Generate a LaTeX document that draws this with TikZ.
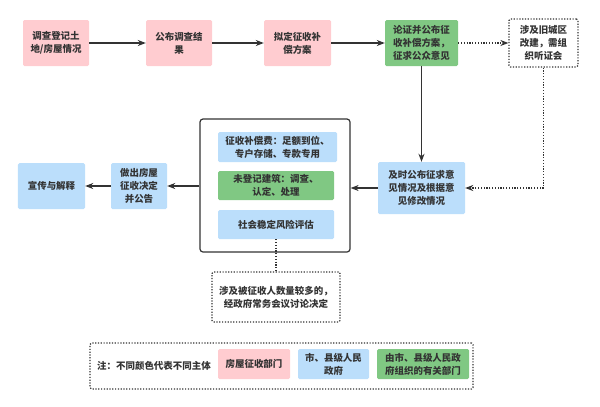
\documentclass[tikz,border=0pt]{standalone}
\usepackage{fontspec}
\setmainfont{Noto Sans CJK SC}
\usetikzlibrary{arrows.meta}
\definecolor{pinkfill}{HTML}{FFCCD0}
\definecolor{bluefill}{HTML}{BBDEFB}
\definecolor{greenfill}{HTML}{80C883}
\definecolor{inkgray}{HTML}{333333}
\tikzstyle{basebox} = [rectangle, rounded corners=1.5pt, align=center,
    font=\fontsize{9.5}{13}\selectfont\bfseries, text=inkgray, inner sep=2pt]
\tikzstyle{pinkbox} = [basebox, fill=pinkfill]
\tikzstyle{bluebox} = [basebox, fill=bluefill]
\tikzstyle{greenbox} = [basebox, fill=greenfill]
\tikzstyle{dotbox} = [basebox, draw=inkgray, line width=1.2bp,
    dash pattern=on 1.2bp off 1.6bp]
\tikzstyle{flow} = [draw=inkgray, line width=1.2bp,
    -{Stealth[length=8bp, width=6bp, inset=2.5bp]}]
\tikzstyle{dotflow} = [flow, dash pattern=on 1.2bp off 1.6bp]

\begin{document}
\begin{tikzpicture}[x=1bp, y=-1bp]
\useasboundingbox (0,0) rectangle (600,406);
% top row
\node [pinkbox, minimum width=66bp, minimum height=46bp] (survey) at (56,43) {调查登记土\\地/房屋情况};
\node [pinkbox, minimum width=66bp, minimum height=46bp] (publish) at (179,43) {公布调查结\\果};
\node [pinkbox, minimum width=67bp, minimum height=46bp] (draft) at (297.5,43) {拟定征收补\\偿方案};
\node [greenbox, minimum width=73bp, minimum height=46bp] (argue) at (421.5,43) {论证并公布征\\收补偿方案，\\征求公众意见};
\node [dotbox, minimum width=69bp, minimum height=48bp] (hearing) at (543.5,43) {涉及旧城区\\改建，需组\\织听证会};
% middle row
\node [bluebox, minimum width=87bp, minimum height=52bp] (revise) at (421.5,188) {及时公布征求意\\见情况及根据意\\见修改情况};
\node [draw=inkgray, line width=1.2bp, rounded corners=3pt,
    minimum width=150bp, minimum height=133bp] (frame) at (275,185.5) {};
\node [bluebox, minimum width=119bp, minimum height=30bp] (fund) at (277.5,147) {征收补偿费：足额到位、\\专户存储、专款专用};
\node [greenbox, minimum width=116bp, minimum height=29bp] (unreg) at (276,185.5) {未登记建筑：调查、\\认定、处理};
\node [bluebox, minimum width=116bp, minimum height=29bp] (risk) at (276,224.5) {社会稳定风险评估};
\node [bluebox, minimum width=56bp, minimum height=46bp] (decide) at (139,186) {做出房屋\\征收决定\\并公告};
\node [bluebox, minimum width=67bp, minimum height=46bp] (explain) at (51.5,186) {宣传与解释};
\node [dotbox, minimum width=128bp, minimum height=50bp] (meeting) at (276,297) {涉及被征收人数量较多的，\\经政府常务会议讨论决定};
% legend
\node [dotbox, minimum width=383bp, minimum height=46bp] (legend) at (281.5,366) {};
\node [basebox, anchor=west] (note) at (95,366) {注：不同颜色代表不同主体};
\node [pinkbox, minimum width=72bp, minimum height=30bp] (keyhouse) at (254,364) {房屋征收部门};
\node [bluebox, minimum width=71bp, minimum height=30bp] (keygov) at (333.5,364) {市、县级人民\\政府};
\node [greenbox, minimum width=92bp, minimum height=30bp] (keydept) at (423,364) {由市、县级人民政\\府组织的有关部门};
% connectors
\draw [flow] (survey) -- (publish);
\draw [flow] (publish) -- (draft);
\draw [flow] (draft) -- (argue);
\draw [dotflow] (argue) -- (hearing);
\draw [flow] (argue) -- (revise);
\draw [dotflow] (hearing.south) |- (revise.east);
\draw [flow] (revise.west) -- (revise.west -| frame.east);
\draw [flow] (frame.west |- decide.east) -- (decide.east);
\draw [flow] (decide) -- (explain);
\draw [draw=inkgray, line width=1.2bp, dash pattern=on 1.2bp off 1.6bp] (risk.south) -- (meeting.north);
\end{tikzpicture}
\end{document}
